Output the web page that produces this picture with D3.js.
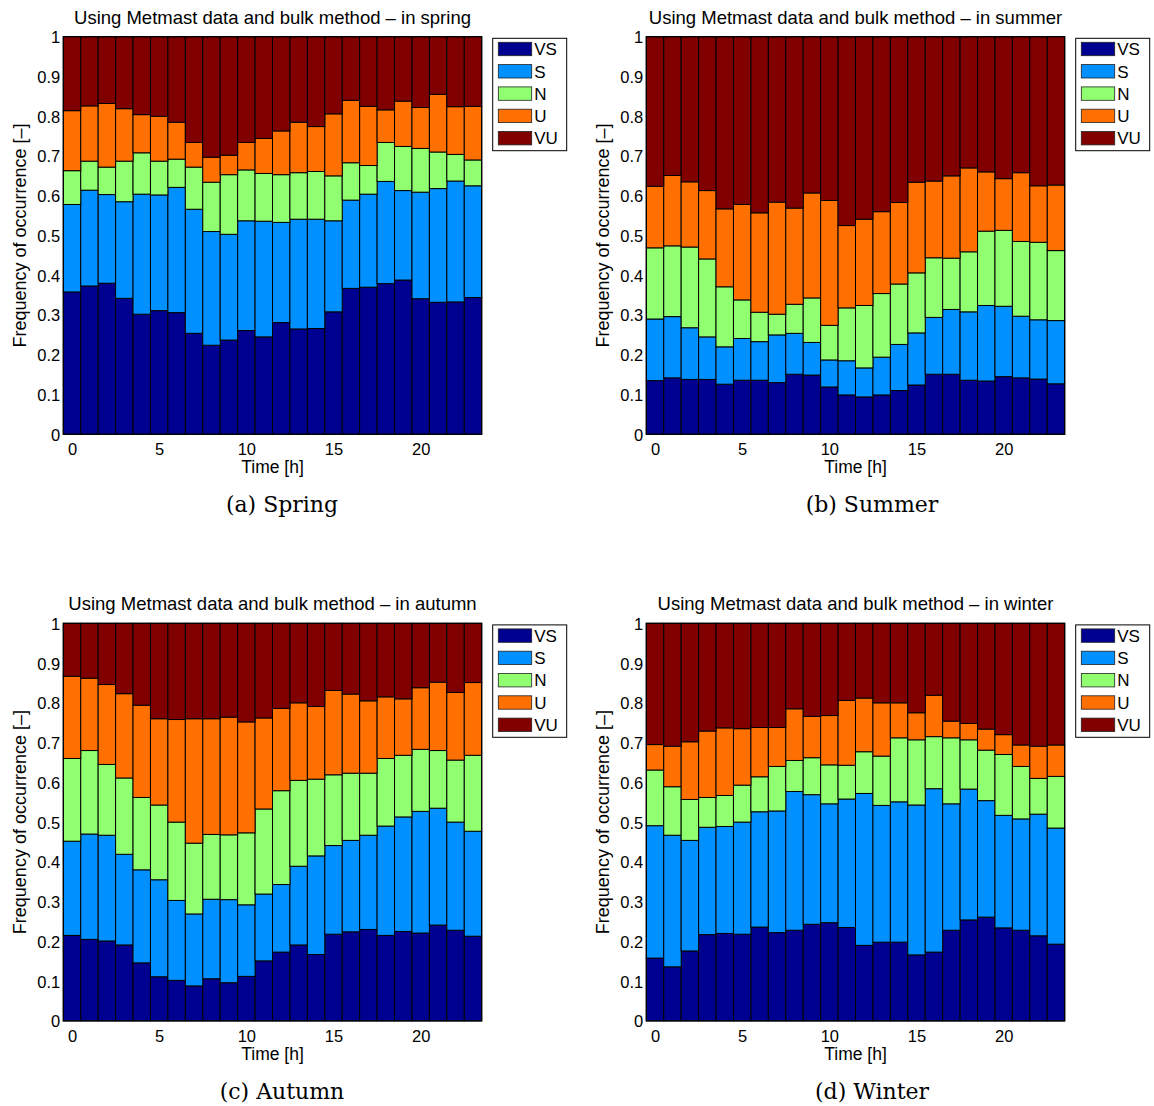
<!DOCTYPE html>
<html>
<head>
<meta charset="utf-8">
<script src="https://cdn.jsdelivr.net/npm/d3@7"></script>
<style>
  body { margin: 0; background: #fff; }
  svg text { font-family: "Liberation Sans", Arial, Helvetica, sans-serif; fill: #000; }
  .caption { font-family: "DejaVu Serif", "Liberation Serif", serif; }
</style>
</head>
<body>
<svg id="fig" width="1154" height="1106"></svg>
<script>
// Hour of day (category axis) and stability classes
const hours = [0,1,2,3,4,5,6,7,8,9,10,11,12,13,14,15,16,17,18,19,20,21,22,23];
const classes = ["VS", "S", "N", "U", "VU"];
const classColors = ["#000090", "#0090ff", "#90ff70", "#ff7000", "#800000"];
const xTicks = [0, 5, 10, 15, 20];
const yTicks = [0, 0.1, 0.2, 0.3, 0.4, 0.5, 0.6, 0.7, 0.8, 0.9, 1];
const yTickLabels = ["0", "0.1", "0.2", "0.3", "0.4", "0.5", "0.6", "0.7", "0.8", "0.9", "1"];

// Frequency of occurrence per class and hour — spring
const springVS = [0.358,0.373,0.380,0.342,0.302,0.311,0.306,0.254,0.224,0.237,0.261,0.245,0.281,0.265,0.266,0.308,0.367,0.370,0.379,0.388,0.341,0.332,0.333,0.344];
const springS  = [0.220,0.241,0.223,0.243,0.302,0.291,0.315,0.312,0.286,0.266,0.276,0.291,0.252,0.276,0.275,0.229,0.222,0.234,0.257,0.225,0.268,0.286,0.304,0.281];
const springN  = [0.085,0.073,0.069,0.102,0.104,0.085,0.071,0.106,0.124,0.150,0.128,0.120,0.120,0.117,0.120,0.113,0.094,0.072,0.098,0.111,0.110,0.092,0.067,0.065];
const springU  = [0.151,0.139,0.160,0.132,0.096,0.113,0.093,0.062,0.063,0.049,0.069,0.088,0.110,0.127,0.113,0.156,0.157,0.149,0.082,0.114,0.103,0.145,0.120,0.135];
const springVU = [0.186,0.174,0.168,0.181,0.196,0.200,0.215,0.266,0.303,0.298,0.266,0.256,0.237,0.215,0.226,0.194,0.160,0.175,0.184,0.162,0.178,0.145,0.176,0.175];

// summer
const summerVS = [0.135,0.142,0.138,0.138,0.126,0.136,0.136,0.130,0.151,0.149,0.119,0.099,0.094,0.099,0.110,0.124,0.151,0.151,0.136,0.134,0.145,0.142,0.139,0.127];
const summerS  = [0.155,0.154,0.130,0.107,0.094,0.105,0.097,0.120,0.103,0.082,0.068,0.086,0.073,0.095,0.116,0.131,0.143,0.163,0.172,0.190,0.177,0.155,0.149,0.159];
const summerN  = [0.179,0.178,0.203,0.196,0.151,0.097,0.074,0.052,0.073,0.112,0.087,0.133,0.157,0.160,0.152,0.151,0.150,0.129,0.151,0.187,0.191,0.188,0.195,0.176];
const summerU  = [0.155,0.177,0.164,0.172,0.196,0.240,0.250,0.282,0.242,0.264,0.314,0.207,0.217,0.206,0.205,0.228,0.193,0.207,0.211,0.149,0.130,0.173,0.142,0.165];
const summerVU = [0.376,0.349,0.365,0.387,0.433,0.422,0.443,0.416,0.431,0.393,0.412,0.475,0.459,0.440,0.417,0.366,0.363,0.350,0.330,0.340,0.357,0.342,0.375,0.373];

// autumn
const autumnVS = [0.215,0.205,0.201,0.191,0.146,0.111,0.102,0.088,0.106,0.096,0.112,0.151,0.173,0.191,0.167,0.218,0.224,0.230,0.215,0.225,0.221,0.241,0.228,0.213];
const autumnS  = [0.237,0.265,0.266,0.228,0.234,0.244,0.201,0.181,0.200,0.209,0.180,0.168,0.170,0.198,0.248,0.223,0.230,0.237,0.275,0.288,0.306,0.294,0.272,0.264];
const autumnN  = [0.208,0.210,0.178,0.192,0.182,0.188,0.197,0.178,0.163,0.163,0.181,0.214,0.236,0.216,0.193,0.178,0.169,0.156,0.170,0.155,0.156,0.145,0.156,0.191];
const autumnU  = [0.207,0.182,0.201,0.212,0.232,0.217,0.258,0.313,0.291,0.296,0.279,0.229,0.207,0.195,0.183,0.212,0.199,0.182,0.155,0.142,0.155,0.172,0.170,0.183];
const autumnVU = [0.133,0.138,0.154,0.177,0.206,0.240,0.242,0.240,0.240,0.236,0.248,0.238,0.214,0.200,0.209,0.169,0.178,0.195,0.185,0.190,0.162,0.148,0.174,0.149];

// winter
const winterVS = [0.158,0.136,0.176,0.217,0.220,0.218,0.236,0.222,0.228,0.243,0.247,0.235,0.190,0.198,0.198,0.166,0.173,0.228,0.254,0.261,0.234,0.228,0.214,0.193];
const winterS  = [0.333,0.331,0.278,0.270,0.269,0.282,0.290,0.306,0.349,0.326,0.299,0.323,0.382,0.344,0.353,0.377,0.411,0.318,0.329,0.293,0.283,0.280,0.306,0.292];
const winterN  = [0.140,0.122,0.103,0.075,0.078,0.093,0.088,0.112,0.078,0.093,0.098,0.085,0.105,0.124,0.161,0.164,0.131,0.166,0.124,0.127,0.153,0.132,0.090,0.130];
const winterU  = [0.064,0.102,0.145,0.167,0.170,0.142,0.124,0.098,0.130,0.104,0.124,0.163,0.135,0.134,0.088,0.068,0.104,0.042,0.041,0.053,0.050,0.054,0.081,0.079];
const winterVU = [0.305,0.309,0.298,0.271,0.263,0.265,0.262,0.262,0.215,0.234,0.232,0.194,0.188,0.200,0.200,0.225,0.181,0.246,0.252,0.266,0.280,0.306,0.309,0.306];

const seasons = [
  { title: "Using Metmast data and bulk method \u2013 in spring", caption: "(a) Spring",
    series: [springVS, springS, springN, springU, springVU] },
  { title: "Using Metmast data and bulk method \u2013 in summer", caption: "(b) Summer",
    series: [summerVS, summerS, summerN, summerU, summerVU] },
  { title: "Using Metmast data and bulk method \u2013 in autumn", caption: "(c) Autumn",
    series: [autumnVS, autumnS, autumnN, autumnU, autumnVU] },
  { title: "Using Metmast data and bulk method \u2013 in winter", caption: "(d) Winter",
    series: [winterVS, winterS, winterN, winterU, winterVU] }
];

// Grid of 2x2 panels
const colLeft = [63.3, 646.3];
const rowTop = [36.7, 623.3];
const plotW = 418.4;
const plotH = 397.6;
const captionX = [282, 872];

const svg = d3.select("#fig");

seasons.forEach((season, idx) => {
  const col = idx % 2, row = Math.floor(idx / 2);
  const g = svg.append("g").attr("transform", `translate(${colLeft[col]},${rowTop[row]})`);

  const x = d3.scaleLinear().domain([-0.5, 23.5]).range([0, plotW]);
  const y = d3.scaleLinear().domain([0, 1]).range([plotH, 0]);

  const rows = hours.map((h, i) => {
    const r = { hour: h };
    classes.forEach((c, k) => { r[c] = season.series[k][i]; });
    return r;
  });
  const stacked = d3.stack().keys(classes)(rows);

  // stacked bars
  g.selectAll("g.layer")
    .data(stacked)
    .join("g")
    .attr("class", "layer")
    .attr("fill", (d, k) => classColors[k])
    .selectAll("rect")
    .data(d => d)
    .join("rect")
    .attr("x", d => x(d.data.hour - 0.5))
    .attr("width", d => x(d.data.hour + 0.5) - x(d.data.hour - 0.5))
    .attr("y", d => y(Math.min(d[1], 1)))
    .attr("height", d => y(d[0]) - y(Math.min(d[1], 1)))
    .attr("stroke", "#000")
    .attr("stroke-width", 1);

  // axes box
  g.append("rect")
    .attr("x", 0).attr("y", 0)
    .attr("width", plotW).attr("height", plotH)
    .attr("fill", "none").attr("stroke", "#000").attr("stroke-width", 1.2);

  // y axis
  const yAxis = g.append("g")
    .call(d3.axisLeft(y).tickValues(yTicks)
      .tickFormat((d, i) => yTickLabels[i])
      .tickSize(0).tickPadding(3));
  yAxis.select(".domain").remove();
  yAxis.selectAll("text").attr("font-size", 16.5).attr("dy", "0.36em");

  // x axis
  const xAxis = g.append("g")
    .attr("transform", `translate(0,${plotH})`)
    .call(d3.axisBottom(x).tickValues(xTicks).tickSize(0));
  xAxis.select(".domain").remove();
  xAxis.selectAll("text").attr("font-size", 16.5).attr("dy", null).attr("y", 21.2);

  // title and axis labels
  g.append("text")
    .attr("x", plotW / 2).attr("y", -13)
    .attr("text-anchor", "middle").attr("font-size", 18.5)
    .text(season.title);

  g.append("text")
    .attr("x", plotW / 2).attr("y", plotH + 39)
    .attr("text-anchor", "middle").attr("font-size", 17.5)
    .text("Time [h]");

  g.append("text")
    .attr("transform", `translate(-37,${plotH / 2}) rotate(-90)`)
    .attr("text-anchor", "middle").attr("font-size", 18)
    .text("Frequency of occurrence [\u2013]");

  // legend
  const lg = g.append("g").attr("transform", `translate(${plotW + 11},1.6)`);
  lg.append("rect")
    .attr("width", 74).attr("height", 112.4)
    .attr("fill", "#fff").attr("stroke", "#000").attr("stroke-width", 1);
  classes.forEach((c, k) => {
    lg.append("rect")
      .attr("x", 5.6).attr("y", 4 + k * 22.3)
      .attr("width", 33.4).attr("height", 13.4)
      .attr("fill", classColors[k]).attr("stroke", "#222").attr("stroke-width", 0.8);
    lg.append("text")
      .attr("x", 41.5).attr("y", 4 + k * 22.3 + 13)
      .attr("font-size", 17)
      .text(c);
  });

  // subfigure caption
  svg.append("text")
    .attr("class", "caption")
    .attr("x", captionX[col]).attr("y", rowTop[row] + 475.5)
    .attr("text-anchor", "middle").attr("font-size", 22)
    .text(season.caption);
});
</script>
</body>
</html>
